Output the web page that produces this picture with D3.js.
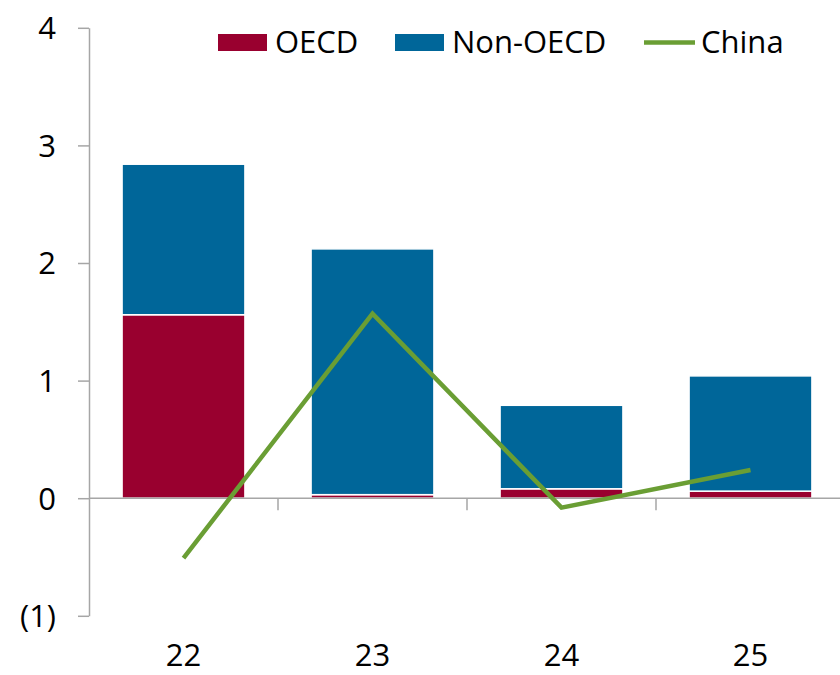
<!DOCTYPE html>
<html><head><meta charset="utf-8">
<script src="https://cdn.jsdelivr.net/npm/d3@7"></script>
<style>body{margin:0;background:#fff}svg{display:block}text{font-family:"Open Sans","Noto Sans",sans-serif;fill:#000}</style>
</head><body><svg id="c" width="840" height="675"></svg>
<script>
const categories = ["22","23","24","25"];
const oecd = [1.56, 0.03, 0.08, 0.06];
const nonOecd = [1.28, 2.09, 0.71, 0.98];
const china = [-0.51, 1.57, -0.08, 0.24];
const yTicks = [-1, 0, 1, 2, 3, 4];
const yTickLabels = ["(1)", "0", "1", "2", "3", "4"];
const seriesNames = ["OECD", "Non-OECD", "China"];
const colors = {OECD: "#99002f", "Non-OECD": "#006699", China: "#6a9e34"};

const svg = d3.select("#c");
const x = d3.scaleBand().domain(categories).range([89, 845]).paddingInner(0.35).paddingOuter(0.175);
const xc = d3.scalePoint().domain(categories).range([89, 845]).padding(0.5);
const y = d3.scaleLinear().domain([-1, 4]).range([615.8, 27.8]);

// y axis
const yAxis = d3.axisLeft(y).tickValues(yTicks).tickFormat((d,i)=>yTickLabels[i]).tickSize(11).tickSizeOuter(0);
const gy = svg.append("g").attr("transform","translate(89,0)").call(yAxis);
gy.select(".domain").attr("stroke","#a6a6a6").attr("stroke-width",1.5);
gy.selectAll(".tick line").attr("stroke","#a6a6a6").attr("stroke-width",1.5);
gy.selectAll(".tick text").attr("font-size",31).attr("x",-33).attr("dy","0.35em").attr("font-family",'"Open Sans",sans-serif');

// stacked bars
const stackData = categories.map((c,i)=>({cat:c, OECD:oecd[i], "Non-OECD":nonOecd[i]}));
const stack = d3.stack().keys(["OECD","Non-OECD"])(stackData);
svg.append("g").selectAll("g").data(stack).join("g").attr("fill",d=>colors[d.key])
  .selectAll("rect").data(d=>d).join("rect")
  .attr("x",d=>x(d.data.cat)).attr("width",x.bandwidth())
  .attr("y",d=>y(d[1])).attr("height",d=>y(d[0])-y(d[1]))
  .attr("stroke","#fff").attr("stroke-width",1.5);

// x axis
const xAxisG = svg.append("g").attr("transform",`translate(0,${y(0)})`);
xAxisG.append("line").attr("x1",89).attr("x2",840).attr("stroke","#a6a6a6").attr("stroke-width",1.5);
const bounds = categories.slice(1).map(c=>x(c)-x.step()*x.paddingInner()/2);
xAxisG.selectAll(".tk").data(bounds).join("line").attr("class","tk")
  .attr("x1",d=>d).attr("x2",d=>d).attr("y1",0).attr("y2",12).attr("stroke","#a6a6a6").attr("stroke-width",1.5);
svg.append("g").selectAll("text").data(categories).join("text")
  .attr("x",d=>xc(d)).attr("y",666).attr("text-anchor","middle").attr("font-size",31).text(d=>d);

// China line
svg.append("path").datum(china).attr("fill","none").attr("stroke",colors.China).attr("stroke-width",4.5)
  .attr("d", d3.line().x((d,i)=>xc(categories[i])).y(d=>y(d)));

// legend
const lg = svg.append("g");
const legendX = [218, 395, 644];
seriesNames.forEach((s,i)=>{
  const g = lg.append("g").attr("transform",`translate(${legendX[i]},0)`);
  if (s === "China") g.append("line").attr("x1",0).attr("x2",51).attr("y1",42.5).attr("y2",42.5).attr("stroke",colors[s]).attr("stroke-width",4.5);
  else g.append("rect").attr("x",0).attr("y",34).attr("width",49).attr("height",17).attr("fill",colors[s]);
  g.append("text").attr("x",57).attr("y",42.5).attr("dy","0.35em").attr("font-size",31).text(s);
});
</script></body></html>
